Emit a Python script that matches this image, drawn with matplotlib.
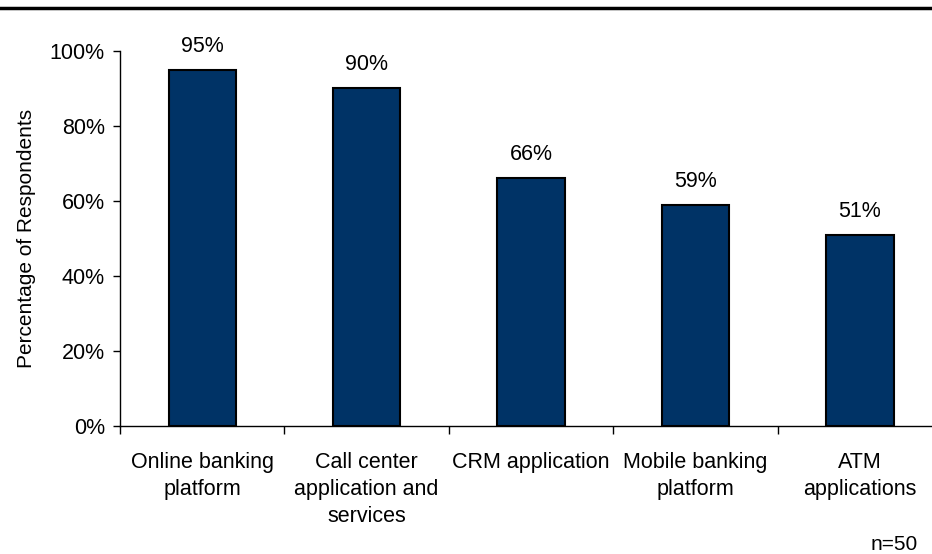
import matplotlib.pyplot as plt
from matplotlib.lines import Line2D

plt.rcParams['font.family'] = ['Liberation Sans', 'DejaVu Sans']

categories = ['Online banking\nplatform', 'Call center\napplication and\nservices',
              'CRM application', 'Mobile banking\nplatform', 'ATM\napplications']
values = [95, 90, 66, 59, 51]
yticks = [0, 20, 40, 60, 80, 100]

fig = plt.figure(figsize=(9.32, 5.54), dpi=100)
ax = fig.add_axes([0.1288, 0.231, 0.882, 0.677])

x = list(range(len(categories)))
ax.bar(x, values, width=0.41, color='#003366', edgecolor='black', linewidth=1.5, zorder=2)

for xi, v in zip(x, values):
    ax.annotate(f'{v}%', (xi, v), xytext=(0, 17), textcoords='offset points',
                ha='center', va='center', fontsize=15.5)

ax.set_xlim(-0.5, len(categories) - 0.5)
ax.set_ylim(0, 100)
ax.set_yticks(yticks)
ax.set_yticklabels([f'{t}%' for t in yticks], fontsize=15.5)
ax.set_ylabel('Percentage of Respondents', fontsize=15, labelpad=10)

# category labels centered, ticks at category boundaries
ax.set_xticks(x)
ax.set_xticklabels(categories, fontsize=15.5, linespacing=1.37, va='top')
ax.tick_params(axis='x', which='major', length=0, pad=19)
ax.set_xticks([i - 0.5 for i in range(len(categories) + 1)], minor=True)
ax.tick_params(axis='x', which='minor', length=6, width=1, direction='out')
ax.tick_params(axis='y', length=5, width=1, direction='out', pad=6)

for s in ['top', 'right']:
    ax.spines[s].set_visible(False)
for s in ['left', 'bottom']:
    ax.spines[s].set_linewidth(1)

fig.add_artist(Line2D([0, 1], [1 - 7.5 / 554, 1 - 7.5 / 554], color='black', linewidth=2.5,
                      transform=fig.transFigure))
fig.text(918 / 932, 1 - 545 / 554, 'n=50', ha='right', va='center', fontsize=15)

fig.savefig('out.png', dpi=100)
